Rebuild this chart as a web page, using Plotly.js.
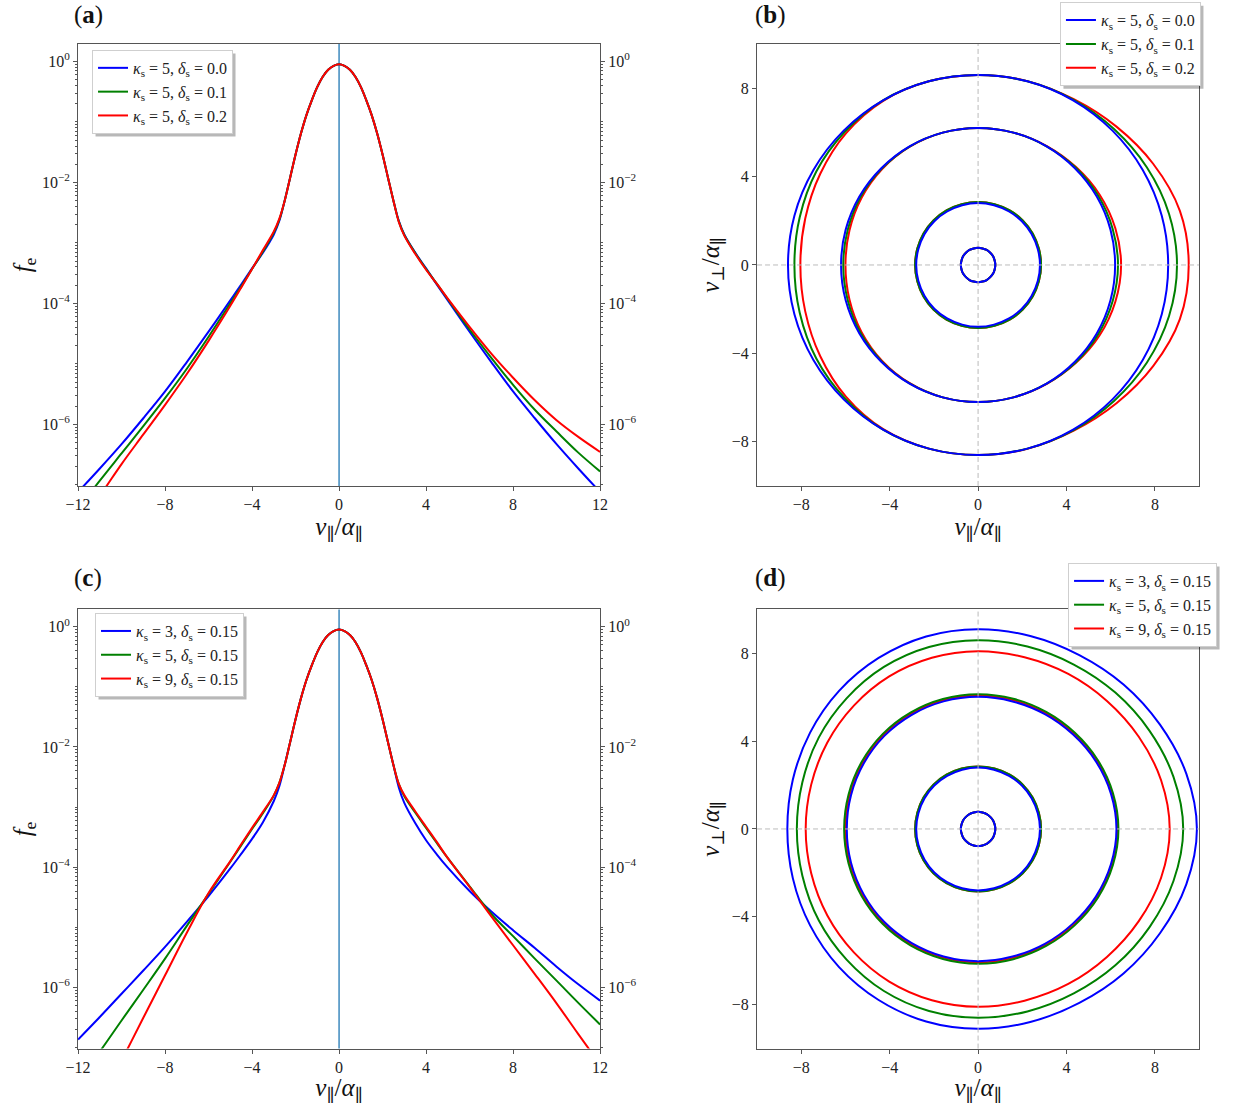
<!DOCTYPE html>
<html>
<head>
<meta charset="utf-8">
<script src="https://cdn.plot.ly/plotly-3.0.1.min.js"></script>
<style>
  html, body { margin: 0; padding: 0; background: #fff; }
  #fig { width: 1247px; height: 1105px; }
</style>
</head>
<body>
<div id="fig"></div>
<script>
// ---------- electron distribution f_e along v_par (panels a, c) ----------
const vPar = [-12, -11, -10, -9, -8, -7, -6, -5, -4.5, -4, -3.5, -3, -2.75, -2.5, -2.25, -2, -1.75, -1.5, -1.25, -1, -0.75, -0.5, -0.25,
  0, 0.25, 0.5, 0.75, 1, 1.25, 1.5, 1.75, 2, 2.25, 2.5, 2.75, 3, 3.5, 4, 4.5, 5, 6, 7, 8, 9, 10, 11, 12];

// panel (a): kappa_s = 5, delta_s = 0.0 / 0.1 / 0.2
const fA_d00 = [7.6e-8, 1.86e-7, 4.7e-7, 1.26e-6, 3.5e-6, 1.07e-5, 3.4e-5, 1.12e-4, 2.04e-4, 3.8e-4, 6.9e-4, 1.38e-3, 2.3e-3, 5.0e-3, 1.2e-2, 2.9e-2, 6.5e-2, 0.13, 0.23, 0.38, 0.56, 0.73, 0.85,
  0.90, 0.85, 0.73, 0.56, 0.38, 0.23, 0.13, 6.5e-2, 2.9e-2, 1.2e-2, 5.0e-3, 2.3e-3, 1.38e-3, 6.9e-4, 3.8e-4, 2.04e-4, 1.12e-4, 3.4e-5, 1.07e-5, 3.5e-6, 1.26e-6, 4.7e-7, 1.86e-7, 7.6e-8];
const fA_d01 = [4.0e-8, 1.17e-7, 3.3e-7, 9.3e-7, 2.7e-6, 8.3e-6, 2.8e-5, 1.0e-4, 1.9e-4, 3.7e-4, 7.2e-4, 1.48e-3, 2.4e-3, 5.0e-3, 1.2e-2, 2.9e-2, 6.5e-2, 0.13, 0.23, 0.38, 0.56, 0.73, 0.85,
  0.90, 0.85, 0.73, 0.56, 0.38, 0.23, 0.13, 6.5e-2, 2.9e-2, 1.2e-2, 5.0e-3, 2.25e-3, 1.35e-3, 6.8e-4, 3.7e-4, 2.1e-4, 1.17e-4, 3.7e-5, 1.26e-5, 4.5e-6, 1.74e-6, 7.6e-7, 3.4e-7, 1.66e-7];
const fA_d02 = [2.2e-8, 6.6e-8, 2.2e-7, 6.8e-7, 2.1e-6, 6.8e-6, 2.4e-5, 9.1e-5, 1.82e-4, 3.7e-4, 7.6e-4, 1.55e-3, 2.5e-3, 5.0e-3, 1.2e-2, 2.9e-2, 6.5e-2, 0.13, 0.23, 0.38, 0.56, 0.73, 0.85,
  0.90, 0.85, 0.73, 0.56, 0.38, 0.23, 0.13, 6.5e-2, 2.9e-2, 1.2e-2, 5.0e-3, 2.2e-3, 1.32e-3, 6.6e-4, 3.6e-4, 2.1e-4, 1.2e-4, 4.1e-5, 1.48e-5, 5.9e-6, 2.5e-6, 1.17e-6, 6.2e-7, 3.5e-7];

// panel (c): delta_s = 0.15, kappa_s = 3 / 5 / 9
const fC_k3 = [1.35e-7, 3.2e-7, 7.8e-7, 1.9e-6, 4.7e-6, 1.23e-5, 3.3e-5, 9.5e-5, 1.66e-4, 2.95e-4, 5.6e-4, 1.26e-3, 2.2e-3, 5.0e-3, 1.2e-2, 2.9e-2, 6.5e-2, 0.13, 0.23, 0.38, 0.56, 0.73, 0.85,
  0.90, 0.85, 0.73, 0.56, 0.38, 0.23, 0.13, 6.5e-2, 2.9e-2, 1.2e-2, 5.0e-3, 2.1e-3, 1.17e-3, 5.4e-4, 2.8e-4, 1.62e-4, 9.8e-5, 4.0e-5, 1.82e-5, 8.9e-6, 4.5e-6, 2.2e-6, 1.12e-6, 6.0e-7];
const fC_k5 = [2.7e-8, 8.5e-8, 2.8e-7, 9.1e-7, 3.0e-6, 1.05e-5, 3.6e-5, 1.23e-4, 2.3e-4, 4.3e-4, 7.9e-4, 1.55e-3, 2.5e-3, 5.0e-3, 1.2e-2, 2.9e-2, 6.5e-2, 0.13, 0.23, 0.38, 0.56, 0.73, 0.85,
  0.90, 0.85, 0.73, 0.56, 0.38, 0.23, 0.13, 6.5e-2, 2.9e-2, 1.2e-2, 5.0e-3, 2.4e-3, 1.51e-3, 8.1e-4, 4.5e-4, 2.5e-4, 1.41e-4, 4.8e-5, 1.66e-5, 7.1e-6, 3.0e-6, 1.29e-6, 5.5e-7, 2.4e-7];
const fC_k9 = [2.3e-9, 1.17e-8, 6.0e-8, 3.1e-7, 1.58e-6, 8.1e-6, 3.7e-5, 1.26e-4, 2.4e-4, 4.5e-4, 8.3e-4, 1.58e-3, 2.5e-3, 5.0e-3, 1.2e-2, 2.9e-2, 6.5e-2, 0.13, 0.23, 0.38, 0.56, 0.73, 0.85,
  0.90, 0.85, 0.73, 0.56, 0.38, 0.23, 0.13, 6.5e-2, 2.9e-2, 1.2e-2, 5.0e-3, 2.4e-3, 1.58e-3, 8.5e-4, 4.7e-4, 2.6e-4, 1.41e-4, 4.7e-5, 1.51e-5, 5.0e-6, 1.66e-6, 5.4e-7, 1.66e-7, 5.2e-8];

// ---------- iso-contours in the (v_par, v_perp) plane (panels b, d) ----------
// panel (b): kappa_s = 5, delta_s = 0.0 / 0.1 / 0.2
const bOuterD00x = [8.6, 8.31, 7.45, 6.08, 4.3, 2.23, 0, -2.23, -4.3, -6.08, -7.45, -8.31, -8.6, -8.31, -7.45, -6.08, -4.3, -2.23, 0, 2.23, 4.3, 6.08, 7.45, 8.31, 8.6];
const bOuterD00y = [0, 2.23, 4.3, 6.08, 7.45, 8.31, 8.6, 8.31, 7.45, 6.08, 4.3, 2.23, 0, -2.23, -4.3, -6.08, -7.45, -8.31, -8.6, -8.31, -7.45, -6.08, -4.3, -2.23, 0];
const bOuterD01x = [9.0, 8.64, 7.64, 6.15, 4.32, 2.23, 0, -2.23, -4.3, -6.03, -7.32, -8.07, -8.31, -8.07, -7.32, -6.03, -4.3, -2.23, 0, 2.23, 4.32, 6.15, 7.64, 8.64, 9.0];
const bOuterD01y = [0, 2.31, 4.41, 6.15, 7.47, 8.31, 8.6, 8.31, 7.45, 6.03, 4.23, 2.16, 0, -2.16, -4.23, -6.03, -7.45, -8.31, -8.6, -8.31, -7.47, -6.15, -4.41, -2.31, 0];
const bOuterD02x = [9.53, 9.13, 7.92, 6.26, 4.33, 2.23, 0, -2.23, -4.29, -5.97, -7.14, -7.82, -8.04, -7.82, -7.14, -5.97, -4.29, -2.23, 0, 2.23, 4.33, 6.26, 7.92, 9.13, 9.53];
const bOuterD02y = [0, 2.45, 4.58, 6.26, 7.5, 8.32, 8.6, 8.31, 7.43, 5.97, 4.13, 2.1, 0, -2.1, -4.13, -5.97, -7.43, -8.31, -8.6, -8.32, -7.5, -6.26, -4.58, -2.45, 0];
const bMidD00x = [6.2, 5.99, 5.37, 4.38, 3.1, 1.6, 0, -1.6, -3.1, -4.38, -5.37, -5.99, -6.2, -5.99, -5.37, -4.38, -3.1, -1.6, 0, 1.6, 3.1, 4.38, 5.37, 5.99, 6.2];
const bMidD00y = [0, 1.6, 3.1, 4.38, 5.37, 5.99, 6.2, 5.99, 5.37, 4.38, 3.1, 1.6, 0, -1.6, -3.1, -4.38, -5.37, -5.99, -6.2, -5.99, -5.37, -4.38, -3.1, -1.6, 0];
const bMidD01x = [6.33, 6.09, 5.43, 4.41, 3.1, 1.6, 0, -1.6, -3.1, -4.36, -5.32, -5.9, -6.1, -5.9, -5.32, -4.36, -3.1, -1.6, 0, 1.6, 3.1, 4.41, 5.43, 6.09, 6.33];
const bMidD01y = [0, 1.63, 3.14, 4.41, 5.37, 5.99, 6.2, 5.99, 5.36, 4.36, 3.07, 1.58, 0, -1.58, -3.07, -4.36, -5.36, -5.99, -6.2, -5.99, -5.37, -4.41, -3.14, -1.63, 0];
const bMidD02x = [6.47, 6.21, 5.5, 4.43, 3.11, 1.6, 0, -1.6, -3.09, -4.34, -5.27, -5.82, -6.0, -5.82, -5.27, -4.34, -3.09, -1.6, 0, 1.6, 3.11, 4.43, 5.5, 6.21, 6.47];
const bMidD02y = [0, 1.66, 3.18, 4.43, 5.38, 5.99, 6.2, 5.99, 5.35, 4.34, 3.04, 1.56, 0, -1.56, -3.04, -4.34, -5.35, -5.99, -6.2, -5.99, -5.38, -4.43, -3.18, -1.66, 0];

// panel (d): delta_s = 0.15, kappa_s = 3 / 5 / 9
const dOuterK3x = [9.9, 9.42, 8.23, 6.58, 4.58, 2.36, 0, -2.35, -4.5, -6.29, -7.6, -8.38, -8.63, -8.38, -7.6, -6.29, -4.5, -2.35, 0, 2.36, 4.58, 6.58, 8.23, 9.42, 9.9];
const dOuterK3y = [0, 2.52, 4.75, 6.58, 7.92, 8.79, 9.1, 8.77, 7.79, 6.29, 4.39, 2.25, 0, -2.25, -4.39, -6.29, -7.79, -8.77, -9.1, -8.79, -7.92, -6.58, -4.75, -2.52, 0];
const dOuterK5x = [9.28, 8.84, 7.75, 6.21, 4.33, 2.23, 0, -2.22, -4.26, -5.95, -7.21, -7.95, -8.2, -7.95, -7.21, -5.95, -4.26, -2.22, 0, 2.23, 4.33, 6.21, 7.75, 8.84, 9.28];
const dOuterK5y = [0, 2.37, 4.48, 6.21, 7.49, 8.31, 8.6, 8.29, 7.38, 5.95, 4.16, 2.13, 0, -2.13, -4.16, -5.95, -7.38, -8.29, -8.6, -8.31, -7.49, -6.21, -4.48, -2.37, 0];
const dOuterK9x = [8.67, 8.28, 7.27, 5.83, 4.08, 2.1, 0, -2.09, -4.02, -5.62, -6.82, -7.55, -7.8, -7.55, -6.82, -5.62, -4.02, -2.09, 0, 2.1, 4.08, 5.83, 7.27, 8.28, 8.67];
const dOuterK9y = [0, 2.22, 4.2, 5.83, 7.06, 7.82, 8.1, 7.8, 6.95, 5.62, 3.94, 2.02, 0, -2.02, -3.94, -5.62, -6.95, -7.8, -8.1, -7.82, -7.06, -5.83, -4.2, -2.22, 0];
const dMidK3x = [6.26, 6.01, 5.33, 4.3, 3.02, 1.56, 0, -1.56, -3.0, -4.24, -5.17, -5.75, -5.94, -5.75, -5.17, -4.24, -3.0, -1.56, 0, 1.56, 3.02, 4.3, 5.33, 6.01, 6.26];
const dMidK3y = [0, 1.61, 3.08, 4.3, 5.23, 5.81, 6.02, 5.81, 5.2, 4.24, 2.99, 1.54, 0, -1.54, -2.99, -4.24, -5.2, -5.81, -6.02, -5.81, -5.23, -4.3, -3.08, -1.61, 0];
const dMidK5x = [6.35, 6.1, 5.42, 4.38, 3.08, 1.59, 0, -1.59, -3.06, -4.32, -5.27, -5.86, -6.06, -5.86, -5.27, -4.32, -3.06, -1.59, 0, 1.59, 3.08, 4.38, 5.42, 6.1, 6.35];
const dMidK5y = [0, 1.64, 3.13, 4.38, 5.33, 5.93, 6.14, 5.92, 5.3, 4.32, 3.05, 1.57, 0, -1.57, -3.05, -4.32, -5.3, -5.92, -6.14, -5.93, -5.33, -4.38, -3.13, -1.64, 0];
const dMidK9x = [6.3, 6.06, 5.37, 4.34, 3.05, 1.57, 0, -1.57, -3.03, -4.28, -5.22, -5.81, -6.0, -5.81, -5.22, -4.28, -3.03, -1.57, 0, 1.57, 3.05, 4.34, 5.37, 6.06, 6.3];
const dMidK9y = [0, 1.62, 3.1, 4.34, 5.28, 5.87, 6.08, 5.86, 5.25, 4.28, 3.02, 1.56, 0, -1.56, -3.02, -4.28, -5.25, -5.86, -6.08, -5.87, -5.28, -4.34, -3.1, -1.62, 0];

// inner iso-levels, nearly identical for every parameter set
const ringInnerX = [2.8, 2.7, 2.42, 1.98, 1.4, 0.72, 0, -0.72, -1.4, -1.98, -2.42, -2.7, -2.8, -2.7, -2.42, -1.98, -1.4, -0.72, 0, 0.72, 1.4, 1.98, 2.42, 2.7, 2.8];
const ringInnerY = [0, 0.72, 1.4, 1.98, 2.42, 2.7, 2.8, 2.7, 2.42, 1.98, 1.4, 0.72, 0, -0.72, -1.4, -1.98, -2.42, -2.7, -2.8, -2.7, -2.42, -1.98, -1.4, -0.72, 0];
const ringInnerWideX = [2.85, 2.75, 2.47, 2.02, 1.43, 0.74, 0, -0.74, -1.43, -2.02, -2.47, -2.75, -2.85, -2.75, -2.47, -2.02, -1.43, -0.74, 0, 0.74, 1.43, 2.02, 2.47, 2.75, 2.85];
const ringInnerWideY = [0, 0.74, 1.43, 2.02, 2.47, 2.75, 2.85, 2.75, 2.47, 2.02, 1.43, 0.74, 0, -0.74, -1.43, -2.02, -2.47, -2.75, -2.85, -2.75, -2.47, -2.02, -1.43, -0.74, 0];
const ringCoreX = [0.78, 0.75, 0.68, 0.55, 0.39, 0.2, 0, -0.2, -0.39, -0.55, -0.68, -0.75, -0.78, -0.75, -0.68, -0.55, -0.39, -0.2, 0, 0.2, 0.39, 0.55, 0.68, 0.75, 0.78];
const ringCoreY = [0, 0.2, 0.39, 0.55, 0.68, 0.75, 0.78, 0.75, 0.68, 0.55, 0.39, 0.2, 0, -0.2, -0.39, -0.55, -0.68, -0.75, -0.78, -0.75, -0.68, -0.55, -0.39, -0.2, 0];

// legend labels
const labelsA = ['<i>κ</i><sub>s</sub> = 5, <i>δ</i><sub>s</sub> = 0.0',
                 '<i>κ</i><sub>s</sub> = 5, <i>δ</i><sub>s</sub> = 0.1',
                 '<i>κ</i><sub>s</sub> = 5, <i>δ</i><sub>s</sub> = 0.2'];
const labelsC = ['<i>κ</i><sub>s</sub> = 3, <i>δ</i><sub>s</sub> = 0.15',
                 '<i>κ</i><sub>s</sub> = 5, <i>δ</i><sub>s</sub> = 0.15',
                 '<i>κ</i><sub>s</sub> = 9, <i>δ</i><sub>s</sub> = 0.15'];

// log-axis tick labels
const logTickVals = [1, 1e-2, 1e-4, 1e-6];
const logTickText = ['10<sup>0</sup>', '10<sup>−2</sup>', '10<sup>−4</sup>', '10<sup>−6</sup>'];
const linTicksA = [-12, -8, -4, 0, 4, 8, 12];
const linTicksB = [-8, -4, 0, 4, 8];

const COLORS = ['#0000ff', '#008000', '#ff0000'];
const FONT = 'Liberation Serif, DejaVu Serif, serif';

function join(...rings) {
  const xs = [], ys = [];
  rings.forEach((r, i) => {
    if (i) { xs.push(null); ys.push(null); }
    xs.push(...r[0]); ys.push(...r[1]);
  });
  return { x: xs, y: ys };
}

function lineTrace(x, y, color, name, xa, ya, legend) {
  return {
    type: 'scatter', mode: 'lines', x: x, y: y, name: name,
    xaxis: xa, yaxis: ya, legend: legend,
    line: { color: color, width: 2, shape: 'spline', smoothing: 1 },
    connectgaps: false, hoverinfo: 'skip'
  };
}

const traces = [];
// (a)
[fA_d00, fA_d01, fA_d02].forEach((f, i) =>
  traces.push(lineTrace(vPar, f, COLORS[i], labelsA[i], 'x', 'y', 'legend')));
// (c)
[fC_k3, fC_k5, fC_k9].forEach((f, i) =>
  traces.push(lineTrace(vPar, f, COLORS[i], labelsC[i], 'x3', 'y3', 'legend3')));

// (b) contour sets, drawn red -> green -> blue so blue sits on top
const bSets = [
  join([bOuterD00x, bOuterD00y], [bMidD00x, bMidD00y], [ringInnerX, ringInnerY], [ringCoreX, ringCoreY]),
  join([bOuterD01x, bOuterD01y], [bMidD01x, bMidD01y], [ringInnerWideX, ringInnerWideY], [ringCoreX, ringCoreY]),
  join([bOuterD02x, bOuterD02y], [bMidD02x, bMidD02y], [ringInnerWideX, ringInnerWideY], [ringCoreX, ringCoreY])
];
[2, 1, 0].forEach(i => traces.push(lineTrace(bSets[i].x, bSets[i].y, COLORS[i], labelsA[i], 'x2', 'y2', 'legend2')));

const dSets = [
  join([dOuterK3x, dOuterK3y], [dMidK3x, dMidK3y], [ringInnerX, ringInnerY], [ringCoreX, ringCoreY]),
  join([dOuterK5x, dOuterK5y], [dMidK5x, dMidK5y], [ringInnerWideX, ringInnerWideY], [ringCoreX, ringCoreY]),
  join([dOuterK9x, dOuterK9y], [dMidK9x, dMidK9y], [ringInnerWideX, ringInnerWideY], [ringCoreX, ringCoreY])
];
[2, 1, 0].forEach(i => traces.push(lineTrace(dSets[i].x, dSets[i].y, COLORS[i], labelsC[i], 'x4', 'y4', 'legend4')));

// empty carriers so the mirrored right-hand log axes get drawn
['y5', 'y6'].forEach((ya, i) => traces.push({
  type: 'scatter', mode: 'lines', x: [null], y: [null],
  xaxis: i ? 'x3' : 'x', yaxis: ya, showlegend: false, hoverinfo: 'skip'
}));

// ---------- layout ----------
const W = 1247, H = 1105;
const AX = '#555';
const tickFont = { family: FONT, size: 16, color: '#222' };
const titleFont = { family: FONT, size: 25, color: '#111' };

function linAxis(domain, range, ticks, anchor, title, standoff) {
  return {
    domain: domain, range: range, anchor: anchor,
    tickmode: 'array', tickvals: ticks,
    ticks: 'outside', ticklen: 4, tickwidth: 1, tickcolor: AX,
    showline: true, linecolor: AX, linewidth: 1, mirror: true,
    showgrid: false, zeroline: false, tickfont: tickFont,
    title: { text: title, font: titleFont, standoff: standoff }
  };
}
function logAxis(domain, anchor, title, side, overlay) {
  const ax = {
    domain: domain, type: 'log', range: [-7.02, 0.29], anchor: anchor,
    tickmode: 'array', tickvals: logTickVals, ticktext: logTickText,
    ticks: 'outside', ticklen: 4, tickwidth: 1, tickcolor: AX,
    minor: { ticks: 'outside', ticklen: 2, tickcolor: AX, dtick: 'D1', showgrid: false },
    showline: true, linecolor: AX, linewidth: 1, mirror: overlay ? false : true,
    showgrid: false, zeroline: false, tickfont: tickFont,
    side: side
  };
  if (title) ax.title = { text: title, font: titleFont, standoff: 3 };
  if (overlay) { ax.overlaying = overlay; delete ax.domain; }
  return ax;
}

const xDomL = [0.0626, 0.4812], xDomR = [0.6071, 0.9616];
const yDomT = [0.5602, 0.9602], yDomB = [0.0511, 0.4485];

const xTitle = '<i>v</i><sub>∥</sub>/<i>α</i><sub>∥</sub>';
const fTitle = '<i>f</i><sub>e</sub>';
const pTitle = '<i>v</i><sub>⊥</sub>/<i>α</i><sub>∥</sub>';

function legendBox(x, y, order) {
  return {
    x: x, y: y, xanchor: 'left', yanchor: 'top', traceorder: order,
    bgcolor: 'rgba(255,255,255,1)', bordercolor: '#cfcfcf', borderwidth: 1,
    font: { family: FONT, size: 16, color: '#222' },
    itemwidth: 30, tracegroupgap: 0
  };
}

function zeroDash(xa, ya) {
  return [
    { type: 'line', xref: xa, yref: ya + ' domain', x0: 0, x1: 0, y0: 0, y1: 1,
      line: { color: '#bbbbbb', width: 1, dash: '5px,3px' }, layer: 'above' },
    { type: 'line', xref: xa + ' domain', yref: ya, x0: 0, x1: 1, y0: 0, y1: 0,
      line: { color: '#bbbbbb', width: 1, dash: '5px,3px' }, layer: 'above' }
  ];
}

const baseShapes = [
  { type: 'line', xref: 'x', yref: 'y domain', x0: 0, x1: 0, y0: 0, y1: 1,
    line: { color: '#1f77b4', width: 1.3 }, layer: 'below' },
  { type: 'line', xref: 'x3', yref: 'y3 domain', x0: 0, x1: 0, y0: 0, y1: 1,
    line: { color: '#1f77b4', width: 1.3 }, layer: 'below' }
].concat(zeroDash('x2', 'y2'), zeroDash('x4', 'y4'));

const layout = {
  width: W, height: H, autosize: false,
  margin: { l: 0, r: 0, t: 0, b: 0 },
  paper_bgcolor: '#fff', plot_bgcolor: '#fff',
  font: { family: FONT, color: '#222' },
  showlegend: true,
  xaxis: linAxis(xDomL, [-12, 12], linTicksA, 'y', xTitle, 0),
  yaxis: logAxis(yDomT, 'x', fTitle, 'left', null),
  yaxis5: logAxis(yDomT, 'x', null, 'right', 'y'),
  xaxis2: linAxis(xDomR, [-10, 10], linTicksB, 'y2', xTitle, 0),
  yaxis2: linAxis(yDomT, [-10, 10], linTicksB, 'x2', pTitle, 5),
  xaxis3: linAxis(xDomL, [-12, 12], linTicksA, 'y3', xTitle, 0),
  yaxis3: logAxis(yDomB, 'x3', fTitle, 'left', null),
  yaxis6: logAxis(yDomB, 'x3', null, 'right', 'y3'),
  xaxis4: linAxis(xDomR, [-10, 10], linTicksB, 'y4', xTitle, 0),
  yaxis4: linAxis(yDomB, [-10, 10], linTicksB, 'x4', pTitle, 5),
  legend: legendBox(0.0738, 0.9548, 'normal'),
  legend2: legendBox(0.850, 0.998, 'reversed'),
  legend3: legendBox(0.0762, 0.4452, 'normal'),
  legend4: legendBox(0.8565, 0.4905, 'reversed'),
  shapes: baseShapes,
  annotations: [
    { text: '(<b>a</b>)', x: 0.0706, y: 0.9865 },
    { text: '(<b>b</b>)', x: 0.6175, y: 0.9865 },
    { text: '(<b>c</b>)', x: 0.0706, y: 0.4765 },
    { text: '(<b>d</b>)', x: 0.6175, y: 0.4765 }
  ].map(a => Object.assign(a, {
    xref: 'paper', yref: 'paper', xanchor: 'center', yanchor: 'middle', showarrow: false,
    font: { family: FONT, size: 25, color: '#111' }
  }))
};

// drop shadow behind each legend frame, sized from the rendered legend boxes
function legendShadows(gd) {
  const host = gd.getBoundingClientRect();
  const off = 3;
  return ['legend', 'legend2', 'legend3', 'legend4'].map(id => {
    const bg = gd.querySelector('g.' + id + ' rect.bg');
    if (!bg) return null;
    const b = bg.getBoundingClientRect();
    return {
      type: 'rect', xref: 'paper', yref: 'paper', layer: 'above',
      x0: (b.left - host.left + off) / W, x1: (b.right - host.left + off) / W,
      y0: 1 - (b.bottom - host.top + off) / H, y1: 1 - (b.top - host.top + off) / H,
      line: { width: 0 }, fillcolor: 'rgba(0,0,0,0.28)'
    };
  }).filter(Boolean);
}

Plotly.newPlot('fig', traces, layout, { staticPlot: true, displayModeBar: false })
  .then(gd => Plotly.relayout(gd, { shapes: baseShapes.concat(legendShadows(gd)) }));
</script>
</body>
</html>
